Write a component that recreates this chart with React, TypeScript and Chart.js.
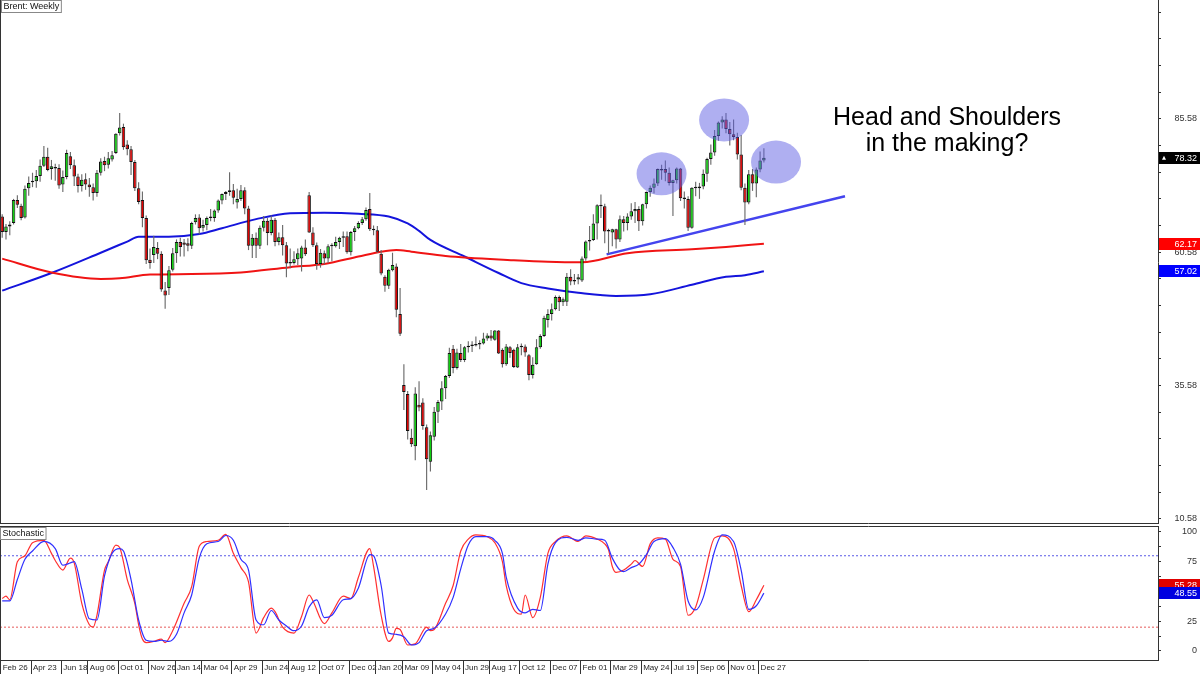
import React, { useEffect, useRef } from "react";
import { Chart, registerables } from "chart.js";

Chart.register(...registerables);

// ---------- Weekly candles (index 0 = week of Feb 26, 2018) ----------
const opens = [
  67.3, 64.4, 65.4, 66.1, 70.4, 69.3, 67.1, 72.6, 73.7, 73.9,
  74.9, 76.8, 78.5, 76.2, 76.6, 76.4, 73.3, 74.7, 78.6, 76.9,
  74.8, 73.0, 74.3, 73.3, 72.8, 71.7, 75.5, 77.7, 77.0, 78.0,
  79.2, 82.9, 84.1, 80.8, 79.9, 77.5, 72.6, 70.4, 67.0, 59.2,
  60.1, 61.4, 60.3, 53.4, 53.9, 57.3, 60.4, 62.5, 62.4, 62.3,
  61.8, 66.2, 67.1, 65.2, 65.7, 67.1, 67.0, 68.4, 70.3, 71.5,
  71.9, 72.2, 69.9, 70.6, 72.2, 68.8, 61.8, 63.3, 61.8, 65.2,
  66.5, 64.2, 66.7, 62.5, 63.4, 61.9, 58.5, 58.6, 59.3, 59.4,
  61.5, 71.3, 64.3, 61.9, 58.4, 60.4, 59.4, 61.8, 61.7, 62.5,
  63.3, 63.6, 60.6, 64.4, 65.1, 66.1, 66.8, 68.7, 64.9, 64.7,
  60.3, 56.0, 54.3, 57.2, 57.9, 49.0, 35.7, 34.0, 25.8, 24.2,
  32.0, 32.4, 27.8, 21.3, 26.0, 30.7, 32.6, 35.1, 37.4, 42.5,
  38.9, 41.7, 40.4, 42.8, 43.0, 43.1, 43.3, 43.5, 44.4, 45.0,
  44.2, 45.9, 42.3, 39.6, 42.8, 42.3, 39.0, 42.8, 42.9, 41.3,
  37.6, 39.6, 42.8, 44.9, 47.9, 49.0, 49.9, 52.2, 51.2, 51.3,
  56.0, 55.1, 55.5, 55.3, 59.4, 62.6, 62.9, 66.0, 69.5, 69.2,
  64.5, 64.3, 64.9, 63.0, 66.8, 66.1, 67.3, 68.3, 68.7, 66.4,
  69.6, 71.9, 72.7, 73.5, 75.9, 76.2, 75.5, 73.6, 74.1, 76.3,
  70.7, 70.6, 65.2, 72.7, 72.6, 72.9, 75.3, 78.1, 79.3, 82.4,
  84.9, 85.5, 83.7, 82.7, 82.2, 78.9, 72.7, 69.9, 75.2, 73.5,
  76.1, 77.8,
];
const highs = [
  67.7, 65.9, 66.4, 70.6, 71.3, 69.7, 73.1, 74.8, 75.5, 76.0,
  78.0, 80.5, 80.2, 77.9, 77.2, 77.1, 75.9, 79.8, 79.4, 78.0,
  75.3, 75.2, 75.4, 74.5, 73.5, 76.0, 78.2, 78.5, 79.4, 79.6,
  82.9, 86.7, 84.7, 81.6, 80.5, 77.9, 73.7, 72.0, 67.5, 61.3,
  63.7, 62.5, 60.8, 55.0, 58.0, 61.4, 63.0, 63.3, 63.1, 63.2,
  66.3, 67.7, 67.7, 66.7, 67.3, 68.7, 68.6, 70.5, 71.6, 72.1,
  75.6, 73.4, 72.5, 73.2, 72.8, 69.3, 64.0, 64.3, 65.6, 67.4,
  67.0, 67.5, 67.0, 64.3, 65.7, 62.5, 61.3, 60.8, 61.3, 61.8,
  63.0, 71.9, 65.3, 62.4, 61.2, 60.9, 62.1, 62.3, 63.5, 63.5,
  64.5, 64.5, 64.6, 65.5, 66.4, 67.2, 69.0, 71.7, 65.6, 65.5,
  61.0, 56.3, 57.5, 60.5, 58.5, 53.9, 39.6, 34.6, 27.5, 35.3,
  36.4, 33.2, 28.3, 27.0, 31.6, 32.9, 36.4, 37.6, 42.7, 43.2,
  42.5, 43.4, 43.0, 43.9, 43.9, 44.8, 44.1, 45.5, 45.4, 46.0,
  46.0, 46.0, 42.6, 43.4, 43.0, 42.5, 43.4, 43.5, 43.3, 41.5,
  40.9, 44.3, 45.2, 48.7, 49.9, 51.0, 52.5, 52.5, 52.1, 56.7,
  57.4, 56.5, 56.5, 59.8, 62.8, 65.5, 67.7, 69.6, 71.4, 69.7,
  65.0, 65.0, 65.0, 67.5, 67.4, 67.9, 69.8, 70.0, 69.2, 69.7,
  72.0, 73.1, 74.4, 76.3, 77.0, 77.8, 76.5, 74.2, 76.5, 76.4,
  72.0, 71.1, 72.8, 73.8, 73.6, 76.1, 78.3, 80.8, 83.5, 85.1,
  86.1, 86.7, 85.0, 85.5, 83.0, 82.6, 73.5, 76.0, 76.2, 76.5,
  79.5, 80.1,
];
const lows = [
  63.3, 63.0, 63.8, 65.8, 68.9, 66.6, 66.9, 71.2, 72.8, 72.7,
  73.8, 76.6, 75.8, 74.2, 74.0, 72.5, 71.9, 74.3, 76.2, 73.0,
  71.8, 72.0, 72.3, 71.0, 70.3, 71.0, 75.0, 75.8, 76.3, 77.6,
  79.0, 82.5, 79.8, 78.8, 75.1, 72.1, 69.6, 65.3, 58.4, 57.5,
  58.6, 59.3, 53.2, 50.0, 52.6, 57.0, 58.6, 59.8, 59.8, 60.8,
  61.2, 65.8, 63.9, 64.5, 64.7, 66.4, 66.3, 68.0, 69.6, 70.4,
  71.2, 69.6, 68.8, 70.2, 67.7, 61.0, 59.5, 59.5, 61.2, 64.5,
  61.9, 63.8, 61.7, 61.9, 60.0, 55.9, 57.6, 58.3, 58.2, 57.0,
  59.9, 64.2, 61.6, 57.3, 57.7, 58.3, 58.6, 58.9, 61.5, 61.2,
  61.6, 60.3, 60.0, 62.7, 64.9, 65.7, 66.5, 64.6, 63.8, 60.5,
  56.3, 53.2, 53.7, 57.0, 48.4, 44.9, 31.0, 25.5, 24.1, 21.6,
  30.8, 27.3, 16.0, 19.5, 25.3, 28.6, 31.0, 33.1, 37.0, 37.9,
  38.6, 40.0, 40.0, 41.8, 41.9, 42.9, 42.4, 43.3, 44.0, 44.0,
  44.0, 41.5, 39.0, 39.3, 40.8, 38.9, 38.9, 41.3, 41.0, 36.6,
  36.9, 39.5, 42.5, 44.7, 46.5, 47.8, 49.7, 49.6, 50.5, 50.5,
  54.4, 54.5, 54.6, 55.0, 59.0, 60.9, 62.7, 63.0, 67.0, 62.3,
  60.3, 61.7, 61.3, 62.5, 64.5, 64.7, 66.7, 66.1, 64.6, 65.6,
  68.8, 71.0, 71.6, 73.0, 74.2, 73.9, 73.1, 67.4, 73.5, 70.2,
  68.8, 64.6, 65.0, 71.1, 70.6, 72.4, 73.8, 77.0, 78.7, 81.5,
  83.8, 82.9, 80.6, 81.6, 78.0, 72.2, 65.7, 69.6, 72.1, 70.9,
  75.6, 77.4,
];
const closes = [
  64.4, 65.4, 65.8, 70.4, 69.5, 67.0, 72.5, 73.6, 74.0, 74.9,
  76.8, 78.5, 76.0, 76.7, 76.3, 73.1, 74.7, 79.2, 76.9, 74.8,
  73.0, 74.2, 73.3, 72.8, 71.7, 75.5, 77.6, 76.9, 78.2, 78.8,
  82.8, 84.0, 80.3, 79.9, 77.5, 72.6, 70.0, 67.0, 59.1, 58.6,
  61.6, 60.3, 53.6, 52.5, 57.2, 60.4, 62.5, 61.6, 62.0, 61.8,
  66.1, 67.0, 65.1, 65.7, 67.0, 67.0, 68.4, 70.3, 71.5, 71.9,
  72.2, 70.8, 70.6, 72.2, 68.8, 61.8, 63.3, 61.8, 65.2, 66.5,
  64.2, 66.7, 62.5, 63.4, 61.9, 58.5, 58.6, 59.3, 60.4, 61.5,
  60.2, 64.3, 61.9, 58.4, 60.5, 59.4, 61.7, 61.7, 62.5, 63.3,
  63.4, 60.6, 64.4, 65.1, 66.1, 66.8, 68.5, 64.9, 64.7, 60.7,
  56.6, 54.3, 57.3, 58.2, 49.8, 45.3, 34.4, 27.1, 24.6, 34.1,
  31.5, 28.0, 21.8, 26.3, 30.7, 32.5, 35.1, 37.4, 41.7, 38.9,
  41.8, 40.4, 42.8, 43.0, 43.1, 43.3, 43.5, 44.4, 45.0, 44.4,
  45.9, 41.6, 39.6, 42.9, 41.7, 39.1, 42.8, 42.9, 41.8, 37.6,
  39.5, 42.8, 44.9, 48.3, 49.0, 49.9, 52.2, 51.2, 51.8, 56.0,
  55.1, 55.4, 55.9, 59.4, 62.6, 62.9, 66.0, 69.4, 69.2, 64.5,
  64.6, 64.9, 63.0, 66.8, 66.1, 67.3, 68.3, 68.7, 66.4, 69.6,
  71.9, 72.7, 73.5, 76.2, 76.2, 75.5, 73.6, 74.1, 76.3, 70.7,
  70.6, 65.2, 72.7, 72.6, 72.9, 75.3, 78.1, 79.3, 82.4, 84.9,
  85.5, 83.7, 82.7, 82.2, 78.9, 72.7, 69.9, 75.2, 73.5, 76.1,
  77.8, 78.32,
];

// ---------- Moving averages ----------
const maRedIdx = [0, 13, 26, 31, 39, 50, 63, 76, 85, 94, 100, 104, 108, 117, 135, 144, 153, 165, 182, 191, 201];
const maRedVal = [59.4, 56.8, 55.6, 55.7, 56.4, 56.5, 56.8, 57.8, 58.4, 59.8, 60.7, 61.0, 60.7, 59.9, 59.1, 58.8, 58.7, 60.4, 61.15, 61.6, 62.17];
const maBlueIdx = [0, 13, 26, 33, 36, 44, 52, 58, 67, 76, 85, 94, 102, 107, 110, 113, 122, 131, 137, 144, 152, 162, 171, 182, 191, 196, 201];
const maBlueVal = [53.4, 56.7, 60.5, 62.6, 63.5, 63.5, 64.0, 65.1, 66.8, 67.9, 68.0, 67.8, 67.3, 66.0, 64.6, 62.9, 59.8, 56.7, 54.8, 53.8, 53.0, 52.4, 52.7, 54.5, 56.0, 56.3, 57.02];

// ---------- Stochastic ----------
const stochKIdx = [0, 1, 2, 4, 6, 8, 11, 13, 14, 16, 18, 19, 21, 23, 24, 25, 27, 28, 30, 31, 33, 35, 36, 37, 38, 40, 42, 43, 45, 48, 50, 52, 54, 57, 59, 61, 63, 65, 67, 69, 71, 72, 74, 77, 79, 81, 82, 85, 87, 90, 92, 94, 97, 98, 100, 102, 103, 104, 105, 107, 109, 112, 113, 114, 117, 119, 121, 123, 125, 128, 130, 132, 133, 135, 137, 138, 140, 142, 144, 146, 149, 152, 154, 157, 159, 160, 161, 162, 164, 166, 167, 169, 171, 173, 175, 177, 179, 181, 183, 185, 188, 190, 193, 195, 197, 199, 201];
const stochK = [44, 46, 43, 75, 80, 91, 93, 82, 76, 68, 78, 74, 40, 22, 20, 30, 68, 75, 89, 87, 60, 40, 22, 10, 7, 8, 10, 7, 17, 40, 54, 88, 92, 93, 98, 82, 70, 58, 15, 28, 36, 33, 20, 15, 29, 47, 42, 23, 32, 46, 44, 62, 86, 71, 30, 8, 11, 19, 18, 5, 6, 20, 17, 18, 40, 55, 84, 94, 97.5, 96, 91, 75, 55, 35, 31, 47, 28, 45, 82, 92, 96.7, 92, 96.7, 94, 90, 85, 71, 66, 68, 73, 76, 71, 90, 95, 94, 77, 71, 30, 37, 60, 95, 96.7, 86, 55, 33, 43, 55.28];
const stochDIdx = [0, 2, 4, 6, 8, 11, 14, 16, 18, 19, 21, 23, 25, 27, 29, 31, 32, 34, 36, 38, 40, 42, 44, 46, 48, 50, 52, 54, 57, 59, 61, 63, 65, 67, 69, 71, 73, 75, 77, 79, 81, 83, 85, 87, 90, 92, 94, 97, 98, 100, 102, 104, 106, 108, 110, 112, 114, 117, 119, 121, 123, 125, 128, 130, 132, 133, 136, 138, 140, 142, 144, 146, 149, 152, 154, 157, 159, 161, 163, 164, 166, 168, 170, 172, 175, 177, 179, 181, 183, 185, 188, 190, 193, 195, 197, 199, 201];
const stochD = [42, 42, 60, 77, 84, 92, 86, 72, 74, 75, 52, 27, 26, 63, 82, 86, 84, 60, 26, 9, 8, 9, 8, 14, 32, 47, 78, 90, 92, 97, 93, 77, 68, 26, 22, 34, 26, 21, 17, 21, 37, 43, 28, 30, 43, 44, 53, 81, 80, 55, 15, 14, 12, 5, 7, 17, 19, 31, 45, 69, 89, 96, 96, 93, 82, 62, 36, 32, 35, 34, 73, 91, 95.5, 93, 95, 94, 93, 78, 68, 66.7, 70, 73, 81, 92, 94.4, 87, 73, 42, 34.5, 45, 84, 97.5, 92, 68, 35, 38, 48.55];
const stochLevels = [80, 20];

// ---------- Annotations ----------
const trendIdx = [159.5, 222.4];
const trendVal = [60.2, 71.1];
const shoulderIdx = [174.0, 190.5, 204.2];
const shoulderVal = [75.3, 85.4, 77.5];
const annotationLines = ["Head and Shoulders", "in the making?"];
const mainTitle = "Brent: Weekly";
const stochTitle = "Stochastic";

// ---------- Axis labels ----------
const xTickIdx = [0, 8, 16, 23, 31, 39, 46, 53, 61, 69, 76, 84, 92, 99, 106, 114, 122, 129, 137, 145, 153, 161, 169, 177, 184, 192, 200];
const xTickLabels = ["Feb 26", "Apr 23", "Jun 18", "Aug 06", "Oct 01", "Nov 26", "Jan 14", "Mar 04", "Apr 29", "Jun 24", "Aug 12", "Oct 07", "Dec 02", "Jan 20", "Mar 09", "May 04", "Jun 29", "Aug 17", "Oct 12", "Dec 07", "Feb 01", "Mar 29", "May 24", "Jul 19", "Sep 06", "Nov 01", "Dec 27"];
const priceLabels = [10.58, 35.58, 60.58, 85.58];
const stochLabels = [0, 25, 50, 75, 100];

const X_MIN = -0.58;
const X_MAX = 305.0;
const FONT = '"Liberation Sans", Arial, sans-serif';
const AXIS_COLOR = "#333";

function pts(idx: number[], val: number[]) {
  return idx.map((x, k) => ({ x, y: val[k] }));
}

function drawBox(ctx: CanvasRenderingContext2D, left: number, right: number, y: number, fill: string, text: string) {
  const h = 12;
  ctx.fillStyle = fill;
  ctx.fillRect(left, Math.round(y - h / 2), right - left, h);
  ctx.fillStyle = "#fff";
  ctx.font = `9px ${FONT}`;
  ctx.textAlign = "right";
  ctx.textBaseline = "middle";
  ctx.fillText(text, right - 3, Math.round(y) + 0.5);
}

function drawTitleBox(ctx: CanvasRenderingContext2D, x: number, y: number, text: string) {
  ctx.font = `9px ${FONT}`;
  const w = ctx.measureText(text).width;
  ctx.fillStyle = "#fff";
  ctx.fillRect(x, y, w + 5, 13);
  ctx.strokeStyle = "#888";
  ctx.lineWidth = 1;
  ctx.strokeRect(x + 0.5, y + 0.5, w + 4, 12);
  ctx.fillStyle = "#111";
  ctx.textAlign = "left";
  ctx.textBaseline = "middle";
  ctx.fillText(text, x + 2.5, y + 7);
}

function noPad(s: any) {
  s.paddingTop = 0;
  s.paddingBottom = 0;
  s.paddingLeft = 0;
  s.paddingRight = 0;
}

export default function App() {
  const mainRef = useRef<HTMLCanvasElement | null>(null);
  const stochRef = useRef<HTMLCanvasElement | null>(null);

  useEffect(() => {
    document.body.style.margin = "0";
    const last = closes.length - 1;

    const bodies = opens.map((o, i) => ({ x: i, y: [o, closes[i]] }));
    const wicks = highs.map((h, i) => ({ x: i, y: [lows[i], h] }));
    const bodyColors = opens.map((o, i) => (closes[i] >= o ? "#10d010" : "#e00000"));

    const mainPlugin = {
      id: "mainOverlay",
      afterDatasetsDraw(chart: any) {
        const { ctx, scales } = chart;
        const x = scales.x;
        const y = scales.y;
        ctx.save();
        ctx.fillStyle = "rgba(96,96,228,0.5)";
        shoulderIdx.forEach((v, k) => {
          ctx.beginPath();
          ctx.ellipse(x.getPixelForValue(v), y.getPixelForValue(shoulderVal[k]), 25, 21.5, 0, 0, Math.PI * 2);
          ctx.fill();
        });
        ctx.restore();
      },
      afterDraw(chart: any) {
        const { ctx, chartArea: a, scales } = chart;
        const y = scales.y;
        ctx.save();
        ctx.strokeStyle = AXIS_COLOR;
        ctx.lineWidth = 1;
        ctx.beginPath();
        ctx.moveTo(0.5, a.top);
        ctx.lineTo(0.5, a.bottom);
        ctx.moveTo(a.left, a.bottom - 0.5);
        ctx.lineTo(a.right, a.bottom - 0.5);
        ctx.stroke();

        drawTitleBox(ctx, 1, 0, mainTitle);

        ctx.fillStyle = "#000";
        ctx.font = `25px ${FONT}`;
        ctx.textAlign = "center";
        ctx.textBaseline = "alphabetic";
        ctx.fillText(annotationLines[0], 947, 125);
        ctx.fillText(annotationLines[1], 947, 151);

        const right = chart.width;
        drawBox(ctx, a.right + 1, right, y.getPixelForValue(maRedVal[maRedVal.length - 1]), "#ff0000", maRedVal[maRedVal.length - 1].toFixed(2));
        drawBox(ctx, a.right + 1, right, y.getPixelForValue(maBlueVal[maBlueVal.length - 1]), "#0000ff", maBlueVal[maBlueVal.length - 1].toFixed(2));
        const cy = y.getPixelForValue(closes[last]);
        drawBox(ctx, a.right + 1, right, cy, "#000", closes[last].toFixed(2));
        ctx.fillStyle = "#fff";
        ctx.beginPath();
        ctx.moveTo(a.right + 4, cy + 2);
        ctx.lineTo(a.right + 6, cy - 2);
        ctx.lineTo(a.right + 8, cy + 2);
        ctx.closePath();
        ctx.fill();
        ctx.restore();
      },
    };

    const minorPriceTicks: { value: number }[] = [];
    for (let v = priceLabels[0]; v < 108; v += 5) minorPriceTicks.push({ value: v });

    const main = new Chart(mainRef.current as HTMLCanvasElement, {
      type: "bar",
      data: {
        datasets: [
          {
            type: "bar",
            data: bodies as any,
            backgroundColor: bodyColors,
            borderColor: "#111",
            borderWidth: 1,
            borderSkipped: false,
            barPercentage: 0.92,
            categoryPercentage: 1,
            grouped: false,
            minBarLength: 1.5,
            order: 0,
          } as any,
          {
            type: "bar",
            data: wicks as any,
            backgroundColor: "#6a6a6a",
            borderWidth: 0,
            barPercentage: 0.3,
            categoryPercentage: 1,
            grouped: false,
            order: 1,
          } as any,
          {
            type: "line",
            data: pts(maRedIdx, maRedVal) as any,
            borderColor: "#f01414",
            borderWidth: 2,
            pointRadius: 0,
            cubicInterpolationMode: "monotone",
            order: 2,
          } as any,
          {
            type: "line",
            data: pts(maBlueIdx, maBlueVal) as any,
            borderColor: "#1414dc",
            borderWidth: 2,
            pointRadius: 0,
            cubicInterpolationMode: "monotone",
            order: 2,
          } as any,
          {
            type: "line",
            data: pts(trendIdx, trendVal) as any,
            borderColor: "#4444ee",
            borderWidth: 2.5,
            pointRadius: 0,
            order: 2,
          } as any,
        ],
      },
      options: {
        responsive: false,
        animation: false,
        layout: { padding: { left: 0, right: 3, top: 0, bottom: 0 } },
        plugins: { legend: { display: false }, tooltip: { enabled: false } },
        scales: {
          x: { type: "linear", min: X_MIN, max: X_MAX, display: false, offset: false },
          y: {
            type: "linear",
            position: "right",
            min: 9.64,
            max: 107.89,
            afterBuildTicks: (s: any) => {
              s.ticks = minorPriceTicks.map((t) => ({ ...t }));
            },
            afterFit: (s: any) => {
              s.width = 39;
              noPad(s);
            },
            ticks: {
              autoSkip: false,
              crossAlign: "far",
              padding: 2,
              color: "#333",
              font: { family: FONT, size: 9 },
              callback: (v: any) => {
                const hit = priceLabels.find((p) => Math.abs(p - Number(v)) < 0.01);
                return hit !== undefined ? hit.toFixed(2) : "";
              },
            },
            grid: { drawOnChartArea: false, tickLength: 3, color: AXIS_COLOR },
            border: { color: AXIS_COLOR, width: 1 },
          },
        },
      } as any,
      plugins: [mainPlugin],
    });

    const stochPlugin = {
      id: "stochOverlay",
      afterDraw(chart: any) {
        const { ctx, chartArea: a, scales } = chart;
        const x = scales.x;
        const y = scales.y;
        ctx.save();
        ctx.strokeStyle = AXIS_COLOR;
        ctx.lineWidth = 1;
        ctx.beginPath();
        ctx.moveTo(0.5, a.top);
        ctx.lineTo(0.5, a.bottom);
        ctx.moveTo(a.left, a.top + 0.5);
        ctx.lineTo(a.right, a.top + 0.5);
        xTickIdx.forEach((v) => {
          const px = Math.round(x.getPixelForValue(v)) - 1.5;
          ctx.moveTo(px, a.bottom);
          ctx.lineTo(px, a.bottom + 14);
        });
        ctx.stroke();

        drawTitleBox(ctx, 0, a.top + 1, stochTitle);

        const right = chart.width;
        drawBox(ctx, a.right + 1, right, y.getPixelForValue(stochK[stochK.length - 1]), "#e00000", stochK[stochK.length - 1].toFixed(2));
        drawBox(ctx, a.right + 1, right, y.getPixelForValue(stochD[stochD.length - 1]), "#0000e0", stochD[stochD.length - 1].toFixed(2));
        ctx.restore();
      },
    };

    const stochMinor: { value: number }[] = [];
    for (let v = 0; v <= 100; v += 12.5) stochMinor.push({ value: v });

    const stoch = new Chart(stochRef.current as HTMLCanvasElement, {
      type: "line",
      data: {
        datasets: [
          {
            data: pts(stochKIdx, stochK) as any,
            borderColor: "#ff3030",
            borderWidth: 1.2,
            pointRadius: 0,
            cubicInterpolationMode: "monotone",
            order: 1,
          },
          {
            data: pts(stochDIdx, stochD) as any,
            borderColor: "#3030ff",
            borderWidth: 1.2,
            pointRadius: 0,
            cubicInterpolationMode: "monotone",
            order: 0,
          },
          {
            data: [{ x: X_MIN, y: stochLevels[0] }, { x: X_MAX, y: stochLevels[0] }] as any,
            borderColor: "#5a5ae6",
            borderWidth: 1,
            borderDash: [2, 2],
            pointRadius: 0,
            order: 2,
          },
          {
            data: [{ x: X_MIN, y: stochLevels[1] }, { x: X_MAX, y: stochLevels[1] }] as any,
            borderColor: "#e65a5a",
            borderWidth: 1,
            borderDash: [2, 2],
            pointRadius: 0,
            order: 2,
          },
        ],
      },
      options: {
        responsive: false,
        animation: false,
        layout: { padding: { left: 0, right: 3, top: 2, bottom: 0 } },
        plugins: { legend: { display: false }, tooltip: { enabled: false } },
        scales: {
          x: {
            type: "linear",
            min: X_MIN,
            max: X_MAX,
            offset: false,
            afterBuildTicks: (s: any) => {
              s.ticks = xTickIdx.map((v) => ({ value: v }));
            },
            afterFit: (s: any) => {
              s.height = 15;
              noPad(s);
            },
            ticks: {
              autoSkip: false,
              maxRotation: 0,
              minRotation: 0,
              align: "start",
              labelOffset: 0.5,
              padding: 3,
              color: "#222",
              font: { family: FONT, size: 8 },
              callback: (v: any) => {
                const k = xTickIdx.indexOf(Number(v));
                return k >= 0 ? xTickLabels[k] : "";
              },
            },
            grid: { drawOnChartArea: false, drawTicks: false },
            border: { color: AXIS_COLOR, width: 1 },
          },
          y: {
            type: "linear",
            position: "right",
            min: -7.6,
            max: 105,
            afterBuildTicks: (s: any) => {
              s.ticks = stochMinor.map((t) => ({ ...t }));
            },
            afterFit: (s: any) => {
              s.width = 39;
              noPad(s);
            },
            ticks: {
              autoSkip: false,
              crossAlign: "far",
              padding: 2,
              color: "#333",
              font: { family: FONT, size: 9 },
              callback: (v: any) => (stochLabels.includes(Number(v)) ? String(v) : ""),
            },
            grid: { drawOnChartArea: false, tickLength: 3, color: AXIS_COLOR },
            border: { color: AXIS_COLOR, width: 1 },
          },
        },
      } as any,
      plugins: [stochPlugin],
    });

    return () => {
      main.destroy();
      stoch.destroy();
    };
  }, []);

  return (
    <div style={{ position: "relative", width: 1200, height: 675, background: "#fff", overflow: "hidden" }}>
      <canvas ref={mainRef} width={1200} height={524} style={{ position: "absolute", left: 0, top: 0, display: "block" }} />
      <canvas ref={stochRef} width={1200} height={151} style={{ position: "absolute", left: 0, top: 524, display: "block" }} />
    </div>
  );
}
